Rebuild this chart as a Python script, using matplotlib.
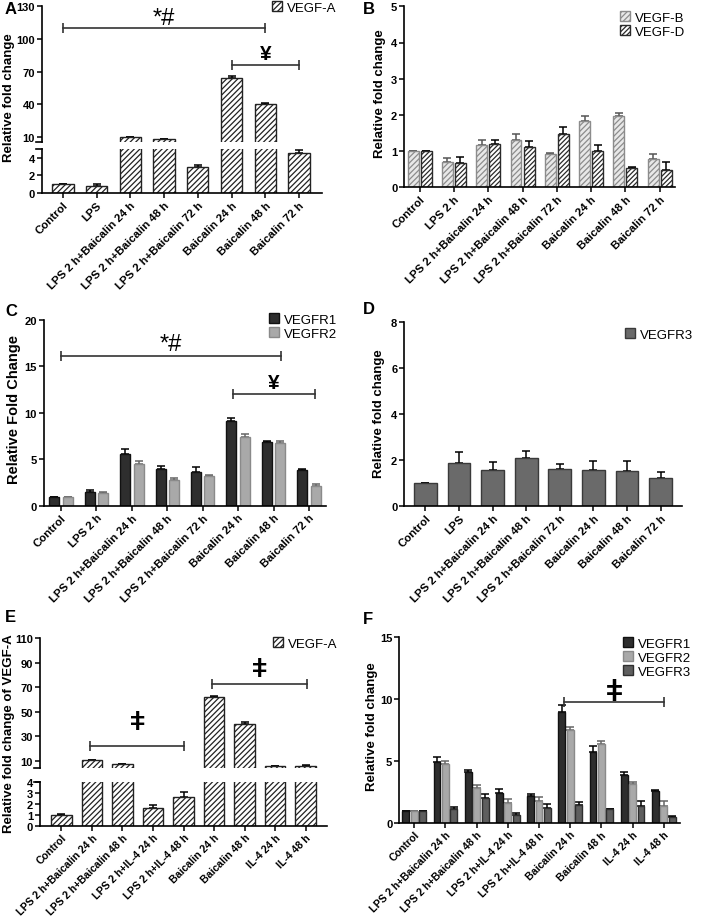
import numpy as np
import matplotlib.pyplot as plt

plt.rcParams['font.family'] = ['Liberation Sans', 'DejaVu Sans']
plt.rcParams['font.weight'] = 'bold'
plt.rcParams['hatch.linewidth'] = 0.9

W, H = 709, 920

# ---- data ----
groups_abcd = ["Control", "LPS", "LPS 2 h+Baicalin 24 h", "LPS 2 h+Baicalin 48 h",
               "LPS 2 h+Baicalin 72 h", "Baicalin 24 h", "Baicalin 48 h", "Baicalin 72 h"]
groups_bc = ["Control", "LPS 2 h", "LPS 2 h+Baicalin 24 h", "LPS 2 h+Baicalin 48 h",
             "LPS 2 h+Baicalin 72 h", "Baicalin 24 h", "Baicalin 48 h", "Baicalin 72 h"]
groups_ef = ["Control", "LPS 2 h+Baicalin 24 h", "LPS 2 h+Baicalin 48 h", "LPS 2 h+IL-4 24 h",
             "LPS 2 h+IL-4 48 h", "Baicalin 24 h", "Baicalin 48 h", "IL-4 24 h", "IL-4 48 h"]

a_vegfa = [1.0, 0.85, 10.0, 8.3, 3.0, 64.5, 40.0, 4.5]
a_vegfa_err = [0.05, 0.15, 0.6, 0.5, 0.12, 1.5, 1.5, 0.3]

b_vegfb = [1.0, 0.7, 1.17, 1.3, 0.93, 1.83, 1.97, 0.77]
b_vegfb_err = [0.0, 0.1, 0.14, 0.17, 0.03, 0.13, 0.08, 0.15]
b_vegfd = [1.0, 0.67, 1.2, 1.1, 1.47, 1.0, 0.53, 0.47]
b_vegfd_err = [0.0, 0.17, 0.1, 0.17, 0.2, 0.17, 0.03, 0.22]

c_r1 = [1.0, 1.55, 5.6, 4.0, 3.7, 9.1, 6.9, 3.85]
c_r1_err = [0.0, 0.2, 0.5, 0.3, 0.45, 0.3, 0.1, 0.1]
c_r2 = [1.0, 1.4, 4.5, 2.8, 3.2, 7.45, 6.8, 2.2]
c_r2_err = [0.0, 0.15, 0.3, 0.25, 0.15, 0.25, 0.2, 0.15]

d_r3 = [1.0, 1.9, 1.57, 2.12, 1.63, 1.6, 1.55, 1.23]
d_r3_err = [0.0, 0.48, 0.35, 0.27, 0.22, 0.38, 0.4, 0.28]

e_vegfa = [1.0, 10.5, 7.3, 1.6, 2.65, 62.0, 40.5, 5.6, 6.0]
e_vegfa_err = [0.05, 0.5, 0.3, 0.3, 0.4, 0.8, 1.3, 0.2, 0.3]

f_r1 = [1.0, 4.95, 4.1, 2.45, 2.2, 8.95, 5.75, 3.9, 2.6]
f_r1_err = [0.0, 0.35, 0.2, 0.3, 0.15, 0.55, 0.45, 0.25, 0.1]
f_r2 = [1.0, 4.75, 2.85, 1.6, 1.75, 7.55, 6.4, 3.15, 1.4]
f_r2_err = [0.0, 0.25, 0.2, 0.3, 0.35, 0.2, 0.2, 0.15, 0.35]
f_r3 = [1.0, 1.15, 2.05, 0.65, 1.2, 1.45, 1.1, 1.4, 0.45]
f_r3_err = [0.0, 0.15, 0.3, 0.15, 0.3, 0.25, 0.05, 0.4, 0.15]


def px_axes(fig, left, top, right, bottom):
    return fig.add_axes([left / W, 1 - bottom / H, (right - left) / W, (bottom - top) / H])


def style(ax, xlabels=None, show_x=True, xsize=8.2):
    ax.spines['top'].set_visible(False)
    ax.spines['right'].set_visible(False)
    ax.spines['left'].set_linewidth(1.2)
    ax.spines['bottom'].set_linewidth(1.2)
    ax.tick_params(axis='y', length=3.5, width=1.1, labelsize=8, pad=1.5)
    ax.tick_params(axis='x', length=3.5, width=1.1, labelsize=xsize, pad=1)
    if show_x:
        ax.set_xticks(np.arange(len(xlabels)), xlabels, rotation=45, ha='right',
                      rotation_mode='anchor', fontweight='bold')
    else:
        ax.spines['bottom'].set_visible(False)
        ax.tick_params(axis='x', bottom=False, labelbottom=False)
    for t in ax.get_yticklabels():
        t.set_fontweight('bold')


def bars(ax, x, vals, errs, width, color, edge, hatch=None, label=None, ecolor='black', keep=None):
    b = ax.bar(x, vals, width, color=color, edgecolor=edge, hatch=hatch,
               linewidth=1.0, label=label, zorder=2)
    x = np.asarray(x, float)
    vals = np.asarray(vals, float)
    errs = np.asarray(errs, float)
    if keep is not None:
        x, vals, errs = x[keep], vals[keep], errs[keep]
    ax.errorbar(x, vals, yerr=[np.zeros(len(vals)), errs], fmt='none', ecolor=ecolor,
                elinewidth=1.1, capsize=3, capthick=1.1, zorder=1)
    return b


def sig(ax, x0, x1, y, txt, ty, size, weight='normal'):
    ax.plot([x0, x1], [y, y], color='#333333', lw=1.2, marker='|', markersize=7,
            mew=1.2, clip_on=False, zorder=3)
    ax.text((x0 + x1) / 2, ty, txt, ha='center', va='center', fontsize=size,
            fontweight=weight, clip_on=False)


def legend(ax, px, py):
    ax.legend(loc='upper left', bbox_to_anchor=(px / W, 1 - py / H), bbox_transform=fig.transFigure,
              frameon=False, prop={'weight': 'normal', 'size': 9.5}, handlelength=0.75,
              handleheight=0.8, handletextpad=0.4, labelspacing=0.1, borderaxespad=0,
              borderpad=0)


def ylab(px, py, txt, size=9.5):
    fig.text(px / W, 1 - py / H, txt, rotation=90, ha='center', va='center',
             fontsize=size, fontweight='bold')


def break_marks(ax_top, ax_bot):
    ax_top.plot([-0.02, 0], [0, 0], transform=ax_top.transAxes, color='black', lw=1.2, clip_on=False)
    ax_bot.plot([-0.02, 0], [1, 1], transform=ax_bot.transAxes, color='black', lw=1.2, clip_on=False)


fig = plt.figure(figsize=(W / 100, H / 100), dpi=100)

hatch_a = '//////'

# ---- A ----
x = np.arange(len(groups_abcd))
axAu = px_axes(fig, 42, 7.3, 322, 143)
axAl = px_axes(fig, 42, 149.7, 322, 194.3)
a_hi = np.array(a_vegfa) > 5
bars(axAu, x, a_vegfa, a_vegfa_err, 0.63, 'white', '#222222', hatch_a, 'VEGF-A', keep=a_hi)
bars(axAl, x, a_vegfa, a_vegfa_err, 0.63, 'white', '#222222', hatch_a, 'VEGF-A', keep=~a_hi)
for ax in (axAu, axAl):
    ax.set_xlim(-0.62, 7.68)
axAu.set_ylim(5.6, 130)
axAu.set_yticks([10, 40, 70, 100, 130])
axAl.set_ylim(0, 5)
axAl.set_yticks([0, 2, 4])
style(axAu, show_x=False)
style(axAl, groups_abcd)
break_marks(axAu, axAl)
sig(axAu, 0, 6, 110, '*#', 119, 17)
sig(axAu, 5, 7, 76, '¥', 87, 15, 'bold')
legend(axAu, 272, 2)
ylab(9, 98, 'Relative fold change')

# ---- B ----
axB = px_axes(fig, 404.3, 7.3, 675, 188.3)
bars(axB, x - 0.19, b_vegfb, b_vegfb_err, 0.32, '#e8e8e8', '#8c8c8c', '//////', 'VEGF-B', '#555555')
bars(axB, x + 0.19, b_vegfd, b_vegfd_err, 0.32, 'white', '#2a2a2a', '///////', 'VEGF-D')
axB.set_xlim(-0.45, 7.45)
axB.set_ylim(0, 5)
axB.set_yticks([0, 1, 2, 3, 4, 5])
style(axB, groups_bc)
legend(axB, 620, 12)
ylab(380, 94, 'Relative fold change')

# ---- C ----
axC = px_axes(fig, 44, 320.7, 326, 507)
bars(axC, x - 0.19, c_r1, c_r1_err, 0.28, '#2e2e2e', '#111111', None, 'VEGFR1')
bars(axC, x + 0.19, c_r2, c_r2_err, 0.28, '#a9a9a9', '#8a8a8a', None, 'VEGFR2', '#666666')
axC.set_xlim(-0.48, 7.48)
axC.set_ylim(0, 20)
axC.set_yticks([0, 5, 10, 15, 20])
style(axC, groups_bc)
legend(axC, 269, 314)
sig(axC, 0, 6.2, 16.1, '*#', 17.4, 17)
sig(axC, 4.86, 7.16, 12.0, '¥', 13.3, 15, 'bold')
ylab(14, 409, 'Relative Fold Change', 10.5)

# ---- D ----
axD = px_axes(fig, 404.3, 323.3, 681.7, 507.3)
bars(axD, x, d_r3, d_r3_err, 0.68, '#6a6a6a', '#3a3a3a', None, 'VEGFR3')
axD.set_xlim(-0.63, 7.63)
axD.set_ylim(0, 8)
axD.set_yticks([0, 2, 4, 6, 8])
style(axD, groups_abcd)
legend(axD, 625, 329)
ylab(379, 414, 'Relative fold change')

# ---- E ----
xe = np.arange(len(groups_ef))
axEu = px_axes(fig, 40, 639.3, 327, 769.3)
axEl = px_axes(fig, 40, 782.7, 327, 826.7)
e_hi = np.array(e_vegfa) > 4
bars(axEu, xe, e_vegfa, e_vegfa_err, 0.67, 'white', '#222222', hatch_a, 'VEGF-A', keep=e_hi)
bars(axEl, xe, e_vegfa, e_vegfa_err, 0.67, 'white', '#222222', hatch_a, 'VEGF-A', keep=~e_hi)
for ax in (axEu, axEl):
    ax.set_xlim(-0.7, 8.7)
axEu.set_ylim(4.0, 110)
axEu.set_yticks([10, 30, 50, 70, 90, 110])
axEl.set_ylim(0, 4)
axEl.set_yticks([0, 1, 2, 3, 4])
style(axEu, show_x=False)
style(axEl, groups_ef, xsize=7.6)
break_marks(axEu, axEl)
sig(axEu, 0.95, 4.02, 21.8, 'ǂ', 41.7, 19, 'bold')
sig(axEu, 4.94, 8.06, 73, 'ǂ', 85, 19, 'bold')
legend(axEu, 273, 638)
ylab(9, 734, 'Relative fold change of VEGF-A')

# ---- F ----
axF = px_axes(fig, 399.3, 638.3, 680, 824)
bars(axF, xe - 0.27, f_r1, f_r1_err, 0.22, '#2e2e2e', '#111111', None, 'VEGFR1')
bars(axF, xe, f_r2, f_r2_err, 0.22, '#a9a9a9', '#8a8a8a', None, 'VEGFR2', '#666666')
bars(axF, xe + 0.27, f_r3, f_r3_err, 0.22, '#5e5e5e', '#2e2e2e', None, 'VEGFR3')
axF.set_xlim(-0.48, 8.52)
axF.set_ylim(0, 15)
axF.set_yticks([0, 5, 10, 15])
style(axF, groups_ef, xsize=7.6)
legend(axF, 623, 638)
sig(axF, 4.81, 8.01, 9.8, 'ǂ', 10.6, 21, 'bold')
ylab(372, 727, 'Relative fold change')

# panel letters
for lab, px, py in [('A', 5, 9), ('B', 363, 9), ('C', 5, 311), ('D', 363, 309), ('E', 5, 618), ('F', 363, 620)]:
    fig.text(px / W, 1 - py / H, lab, fontsize=12, fontweight='bold', ha='left', va='center')

fig.savefig('out.png', dpi=100)
